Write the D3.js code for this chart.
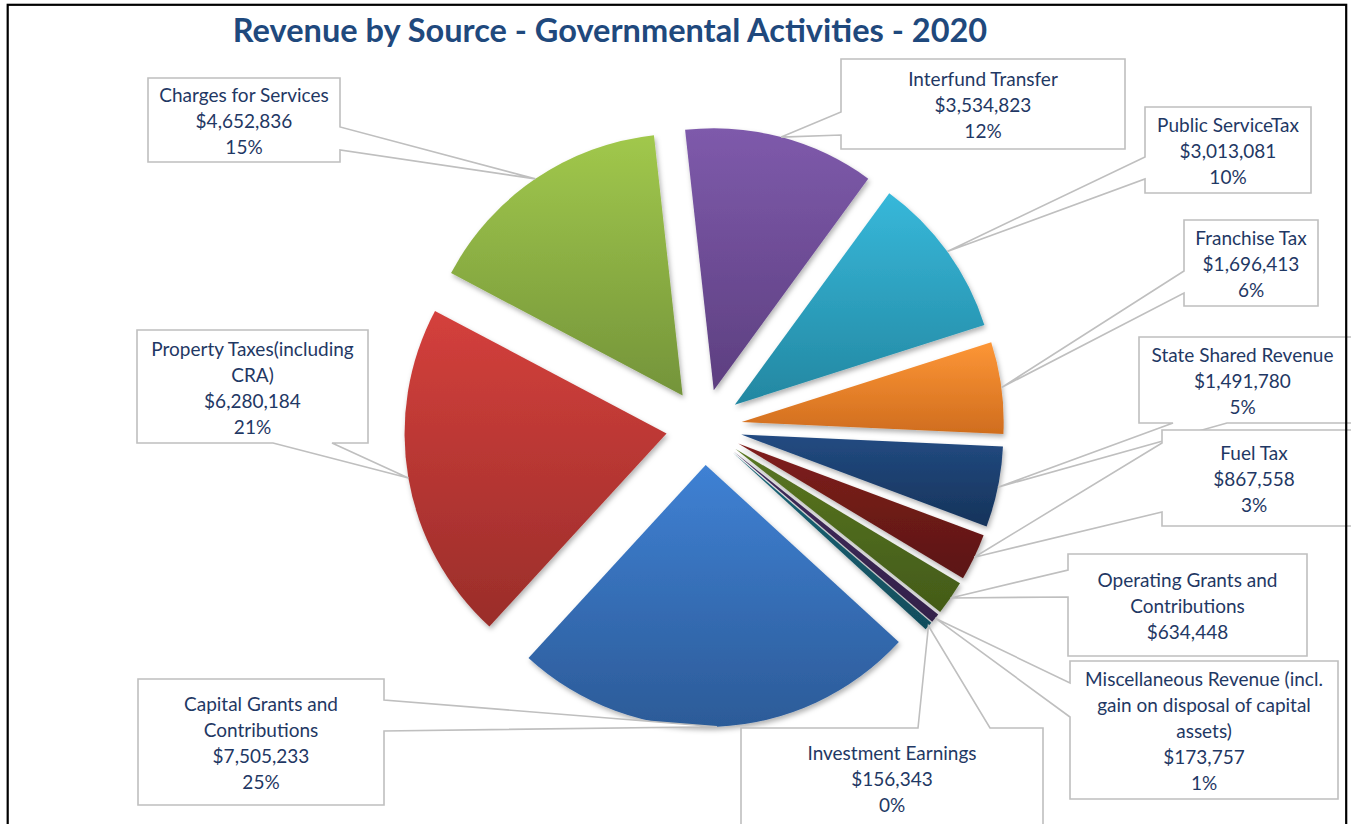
<!DOCTYPE html>
<html>
<head>
<meta charset="utf-8">
<script src="https://cdnjs.cloudflare.com/ajax/libs/d3/7.8.5/d3.min.js"></script>
<style>
    body { margin: 0; background: #fff; }
    svg { display: block; }
</style>
</head>
<body>
<div id="chart"></div>
<script>
// data (Excel series order)
var categories = ["Capital Grants and\nContributions", "Property Taxes(including\nCRA)", "Charges for Services",
    "Interfund Transfer", "Public ServiceTax", "Franchise Tax", "State Shared Revenue", "Fuel Tax",
    "Operating Grants and\nContributions", "Miscellaneous Revenue (incl.\ngain on disposal of capital\nassets)",
    "Investment Earnings"];
var revenues = [7505233, 6280184, 4652836, 3534823, 3013081, 1696413, 1491780, 867558, 634448, 173757, 156343];
var pctLabels = ["25%", "21%", "15%", "12%", "10%", "6%", "5%", "3%", null, "1%", "0%"];

(function () {
    var W = 1351, H = 824;
    var cx = 704, cy = 427, R = 262, explode = 38;
    var startDeg = 132.5;

    //--light / dark ends of each slice gradient
    var colors = [
        ["#3f81d4", "#2c5b98"], ["#d4403c", "#9a2d2a"], ["#a1c84c", "#74943a"],
        ["#7e5aab", "#5d3f80"], ["#37b8da", "#2387a1"], ["#fd9636", "#d06d1e"],
        ["#224b82", "#16335a"], ["#801f1c", "#5b1614"], ["#597622", "#435b18"],
        ["#422c5d", "#33214a"], ["#1a6578", "#114d5c"]
    ];

    //--callout boxes [x0, y0, x1, y1], side the pointer leaves from, and its two base points
    var boxes = [
        {r: [138, 679, 384, 805], side: "right", a: 700, b: 731},
        {r: [137, 330, 368, 443], side: "bottom", a: 273, b: 332},
        {r: [148, 78, 340, 162], side: "right", a: 127, b: 150},
        {r: [841, 59, 1125, 149], side: "left", a: 112, b: 135},
        {r: [1145, 107, 1311, 193], side: "left", a: 157, b: 179},
        {r: [1184, 220, 1318, 306], side: "left", a: 271, b: 293},
        {r: [1139, 337, 1360, 423], side: "bottom", a: 1173, b: 1227},
        {r: [1162, 430, 1360, 526], side: "left", a: 443, b: 512},
        {r: [1068, 554, 1307, 656], side: "left", a: 570, b: 597},
        {r: [1070, 661, 1338, 799], side: "left", a: 683, b: 717},
        {r: [741, 728, 1043, 828], side: "top", a: 918, b: 990}
    ];

    var lineH = 26;
    var fmt = d3.format("$,");

    var svg = d3.select("#chart").append("svg")
        .attr("width", W)
        .attr("height", H);

    var defs = svg.append("defs");
    var shadow = defs.append("filter").attr("id", "shadow")
        .attr("x", "-20%").attr("y", "-20%").attr("width", "140%").attr("height", "140%");
    shadow.append("feDropShadow")
        .attr("dx", 1.5).attr("dy", 3).attr("stdDeviation", 2.5)
        .attr("flood-color", "#000").attr("flood-opacity", 0.3);

    colors.forEach(function (c, i) {
        var g = defs.append("linearGradient").attr("id", "grad" + i)
            .attr("x1", 0).attr("y1", 0).attr("x2", 0).attr("y2", 1);
        g.append("stop").attr("offset", "0%").attr("stop-color", c[0]);
        g.append("stop").attr("offset", "100%").attr("stop-color", c[1]);
    });

    var pie = d3.pie().sort(null)
        .startAngle(startDeg * Math.PI / 180)
        .endAngle(startDeg * Math.PI / 180 + 2 * Math.PI)
        .value(function (d) { return d; });
    var arc = d3.arc().innerRadius(0).outerRadius(R);
    var arcs = pie(revenues);

    var _dir = function (d) {
        var m = (d.startAngle + d.endAngle) / 2;
        return [Math.sin(m), -Math.cos(m)];
    };

    var pieG = svg.append("g").attr("transform", "translate(" + cx + "," + cy + ")");
    pieG.selectAll("path.slice")
        .data(arcs)
        .enter().append("path")
        .attr("class", "slice")
        .attr("d", arc)
        .attr("fill", function (d, i) { return "url(#grad" + i + ")"; })
        .attr("filter", "url(#shadow)")
        .attr("transform", function (d) {
            var v = _dir(d);
            return "translate(" + (v[0] * explode) + "," + (v[1] * explode) + ")";
        });

    //--pointer tip sits on the middle of each slice's outer arc
    var _tip = function (d) {
        var v = _dir(d);
        return [cx + v[0] * (R + explode), cy + v[1] * (R + explode)];
    };

    var _calloutPath = function (b, t) {
        var x0 = b.r[0], y0 = b.r[1], x1 = b.r[2], y1 = b.r[3];
        var p;
        if (b.side === "left") {
            p = [[x0, y0], [x1, y0], [x1, y1], [x0, y1], [x0, b.b], t, [x0, b.a]];
        } else if (b.side === "right") {
            p = [[x0, y0], [x1, y0], [x1, b.a], t, [x1, b.b], [x1, y1], [x0, y1]];
        } else if (b.side === "top") {
            p = [[x0, y0], [b.a, y0], t, [b.b, y0], [x1, y0], [x1, y1], [x0, y1]];
        } else {
            p = [[x0, y0], [x1, y0], [x1, y1], [b.b, y1], t, [b.a, y1], [x0, y1]];
        }
        return "M" + p.map(function (q) { return q[0] + "," + q[1]; }).join("L") + "Z";
    };

    var labG = svg.append("g");
    arcs.forEach(function (d, i) {
        var b = boxes[i];
        var g = labG.append("g");
        g.append("path")
            .attr("d", _calloutPath(b, _tip(d)))
            .attr("fill", "#fff")
            .attr("stroke", "#bfbfbf")
            .attr("stroke-width", 1.6)
            .attr("stroke-linejoin", "miter");

        var lines = categories[i].split("\n").concat([fmt(revenues[i])]);
        if (pctLabels[i]) lines.push(pctLabels[i]);
        var h = b.r[3] - b.r[1];
        var top = b.r[1] + (h - lines.length * lineH) / 2 + lineH / 2 + 1.5;
        var xm = (b.r[0] + Math.min(b.r[2], 1346)) / 2;
        g.selectAll("text").data(lines).enter().append("text")
            .attr("x", xm)
            .attr("y", function (s, k) { return top + k * lineH; })
            .attr("dy", "0.35em")
            .attr("text-anchor", "middle")
            .attr("font-family", "Lato, 'Open Sans', sans-serif")
            .attr("font-size", 19)
            .attr("fill", "#1f3864")
            .text(function (s) { return s; });
    });

    //--title, squeezed to the width it has in the picture
    var title = svg.append("text")
        .attr("x", 610)
        .attr("y", 42)
        .attr("text-anchor", "middle")
        .attr("font-family", "Lato, 'Open Sans', sans-serif")
        .attr("font-weight", "bold")
        .attr("font-size", 30)
        .attr("fill", "#1f497d")
        .text("Revenue by Source - Governmental Activities - 2020");
    var tw = title.node().getComputedTextLength();
    title.attr("font-size", Math.min(34, 30 * 755 / tw));

    //--page frame
    svg.append("rect")
        .attr("x", 7.7).attr("y", 4.8)
        .attr("width", 1346.2 - 7.7).attr("height", 900)
        .attr("fill", "none")
        .attr("stroke", "#000")
        .attr("stroke-width", 2.2);
})();
</script>
</body>
</html>
